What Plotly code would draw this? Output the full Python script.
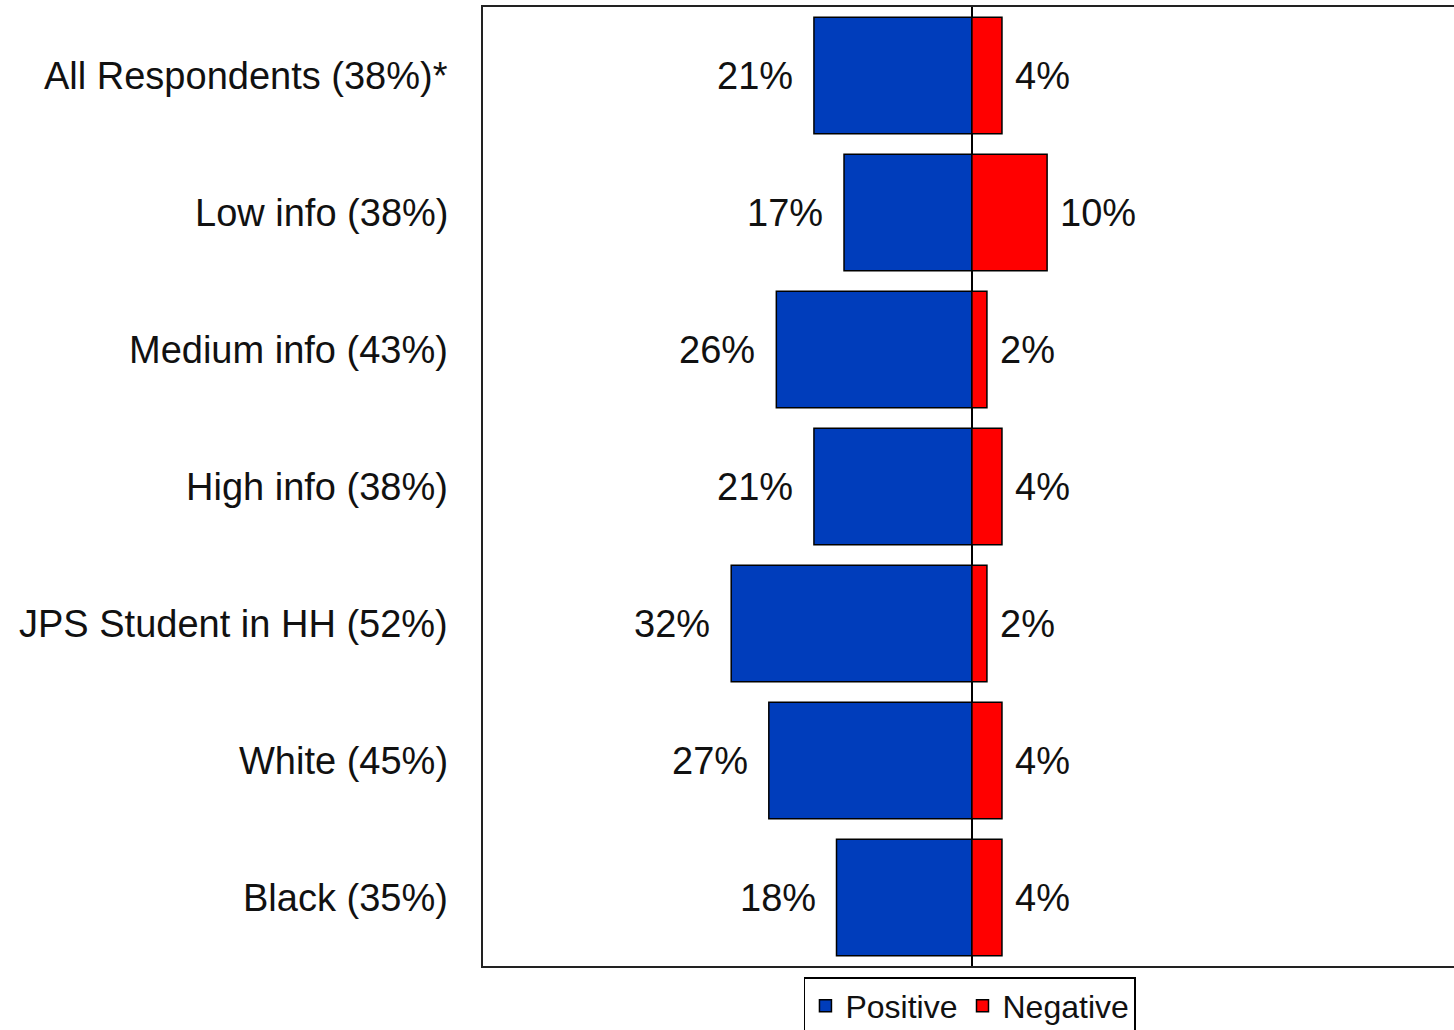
import plotly.graph_objects as go

categories = ["All Respondents (38%)*", "Low info (38%)", "Medium info (43%)",
              "High info (38%)", "JPS Student in HH (52%)", "White (45%)", "Black (35%)"]
positive = [21, 17, 26, 21, 32, 27, 18]
negative = [4, 10, 2, 4, 2, 4, 4]

BLUE = "#003DBB"
RED = "#FF0000"
FONT = "Liberation Sans, Arial, sans-serif"
TXT = "#111111"

fig = go.Figure()
fig.add_trace(go.Bar(
    y=categories, x=[-v for v in positive], orientation="h", name="Positive",
    marker=dict(color=BLUE, line=dict(color="black", width=1.5)), width=0.85,
    hoverinfo="skip"))
fig.add_trace(go.Bar(
    y=categories, x=negative, orientation="h", name="Negative",
    marker=dict(color=RED, line=dict(color="black", width=1.5)), width=0.85,
    hoverinfo="skip"))

annotations = []
for cat, p, n in zip(categories, positive, negative):
    annotations.append(dict(x=-p, y=cat, xref="x", yref="y", text=f"{p}%",
                            showarrow=False, xanchor="right", xshift=-19,
                            font=dict(size=38, color=TXT, family=FONT)))
    annotations.append(dict(x=n, y=cat, xref="x", yref="y", text=f"{n}%",
                            showarrow=False, xanchor="left", xshift=11,
                            font=dict(size=38, color=TXT, family=FONT)))
    annotations.append(dict(x=0, y=cat, xref="paper", yref="y", text=cat,
                            showarrow=False, xanchor="right", xshift=-33,
                            font=dict(size=38, color=TXT, family=FONT)))

fig.update_layout(
    width=1454, height=1030,
    margin=dict(l=483, r=0, t=7, b=64, autoexpand=False),
    paper_bgcolor="white", plot_bgcolor="white",
    barmode="relative", bargap=0.15,
    font=dict(family=FONT, color=TXT),
    annotations=annotations,
    showlegend=True,
    legend=dict(orientation="h", x=0.5015, xanchor="center", y=-0.0115, yanchor="top",
                bordercolor="black", borderwidth=1.5, bgcolor="white",
                font=dict(size=32, family=FONT, color=TXT),
                itemclick=False, itemdoubleclick=False, tracegroupgap=0,
                itemwidth=30, traceorder="normal"),
)
fig.update_xaxes(range=[-65, 64.1], showgrid=False, showticklabels=False, ticks="",
                 zeroline=True, zerolinecolor="black", zerolinewidth=1.5,
                 showline=True, linecolor="#222", linewidth=1.5, mirror=True,
                 layer="above traces", fixedrange=True)
fig.update_yaxes(autorange="reversed", showgrid=False, showticklabels=False, ticks="",
                 showline=True, linecolor="#222", linewidth=1.5, mirror=False,
                 fixedrange=True)

fig.write_html("out.html", config={"displayModeBar": False},
               post_script="document.body.style.margin='0';document.body.style.overflow='hidden';")
